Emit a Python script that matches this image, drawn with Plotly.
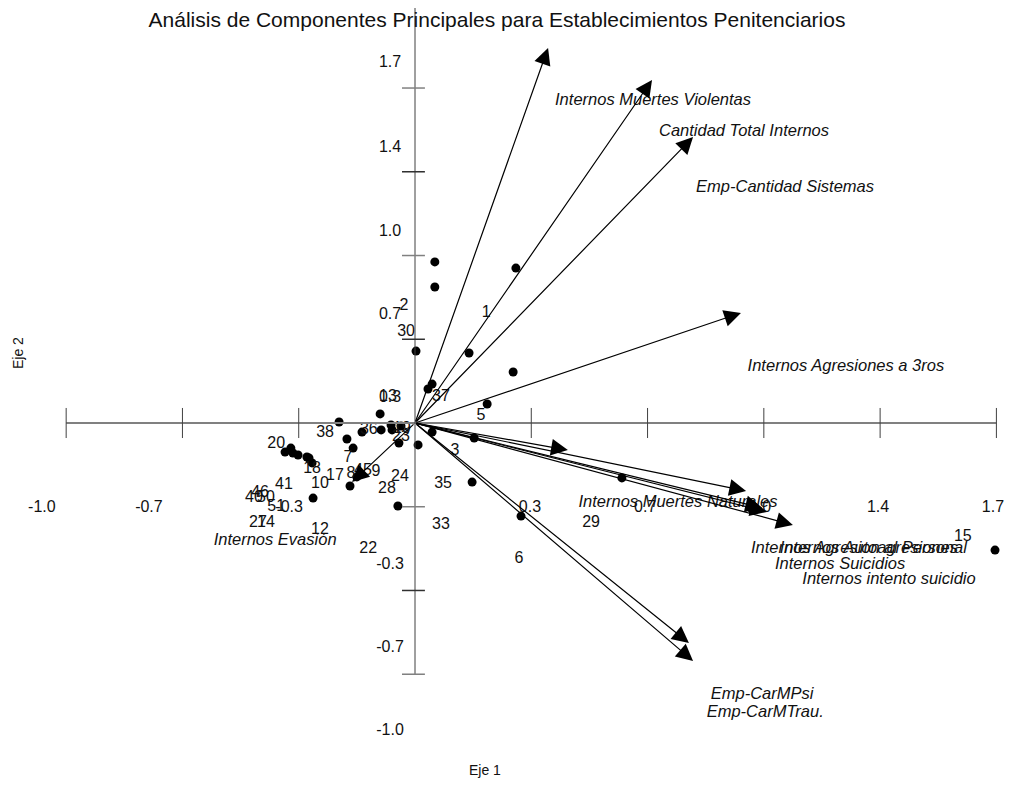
import plotly.graph_objects as go

# ---- data (biplot coordinates) ----
obs_x = [0.058, 0.058, 0.295, 0.003, 0.158, 0.287, 0.050, 0.038, 0.211, -0.102,
         0.050, 0.173, 0.009, -0.222, -0.199, -0.181, -0.155, -0.099, -0.070, -0.067,
         -0.041, -0.047, -0.380, -0.363, -0.357, -0.342, -0.316, -0.301, -0.310, -0.190,
         -0.170, -0.298, -0.050, 0.167, 0.310, 0.605, 0.985, 1.696]
obs_y = [0.654, 0.552, 0.629, 0.292, 0.284, 0.207, 0.158, 0.138, 0.077, 0.037,
         -0.037, -0.061, -0.089, 0.004, -0.065, -0.102, -0.037, -0.028, -0.008, -0.028,
         -0.012, -0.081, -0.118, -0.102, -0.122, -0.130, -0.138, -0.162, -0.142, -0.256,
         -0.219, -0.305, -0.337, -0.240, -0.378, -0.223, -0.349, -0.516]

lab_text = ["2", "30", "1", "13", "37", "5", "38", "36", "19", "23", "20", "7", "18", "3",
            "17", "8", "45", "9", "24", "28", "35", "41", "10", "46", "40", "50", "51",
            "27", "14", "12", "22", "33", "29", "6", "15"]
lab_x = [-0.032, -0.026, 0.208, -0.079, 0.076, 0.193, -0.263, -0.135, -0.038, -0.041,
         -0.406, -0.196, -0.301, 0.117, -0.234, -0.187, -0.152, -0.114, -0.044, -0.082,
         0.082, -0.383, -0.278, -0.453, -0.471, -0.436, -0.406, -0.459, -0.436, -0.278,
         -0.137, 0.076, 0.515, 0.304, 1.602]
lab_y = [0.475, 0.369, 0.447, 0.106, 0.106, 0.028, -0.041, -0.028, -0.024, -0.057,
         -0.085, -0.142, -0.187, -0.114, -0.215, -0.207, -0.195, -0.199, -0.219, -0.268,
         -0.248, -0.252, -0.248, -0.284, -0.305, -0.305, -0.341, -0.406, -0.406, -0.434,
         -0.512, -0.414, -0.406, -0.552, -0.463]

vec_x = [0.389, 0.693, 0.813, 0.953, 0.447, 0.968, 1.015, 1.029, 1.105, 0.801, 0.813, -0.184]
vec_y = [1.523, 1.393, 1.161, 0.447, -0.110, -0.276, -0.345, -0.361, -0.414, -0.893, -0.966, -0.240]

var_names = ["Internos Muertes Violentas", "Cantidad Total Internos", "Emp-Cantidad Sistemas",
             "Internos Agresiones a 3ros", "Internos Muertes Naturales",
             "Internos Agresion al Personal", "Internos Autoagresiones", "Internos Suicidios",
             "Internos intento suicidio", "Internos Evasión", "Emp-CarMPsi", "Emp-CarMTrau."]
var_x = [0.696, 0.962, 1.082, 1.260, 0.769, 1.298, 1.327, 1.243, 1.386, -0.409, 1.015, 1.024]
var_y = [1.307, 1.181, 0.954, 0.227, -0.325, -0.512, -0.512, -0.577, -0.637, -0.479, -1.104, -1.177]

tick_vals = [-1.02, -0.68, -0.34, 0.34, 0.68, 1.02, 1.36, 1.70]
tick_labels = ["-1.0", "-0.7", "-0.3", "0.3", "0.7", "1.0", "1.4", "1.7"]
xlab_pos = [-1.091, -0.778, -0.368, 0.336, 0.673, 1.009, 1.354, 1.690]
ylab_pos = [-1.250, -0.914, -0.577, 0.102, 0.438, 0.775, 1.117, 1.462]
ylab_text = ["-1.0", "-0.7", "-0.3", "0.3", "0.7", "1.0", "1.4", "1.7"]

FONT = "Liberation Sans, Arial, sans-serif"

# page offset compensation (body margin of the page)
OFF = 8
W, H = 1014 - OFF, 789 - OFF


def px(xp):
    return (xp - OFF) / W


def py(yp):
    return 1 - (yp - OFF) / H


fig = go.Figure()

# axes lines
fig.add_shape(type="line", x0=-1.02, x1=1.70, y0=0, y1=0, line=dict(color="#808080", width=2))
fig.add_shape(type="line", x0=0, x1=0, y0=-1.02, y1=1.72, line=dict(color="#404040", width=1))
for i, t in enumerate(tick_vals):
    c = "#808080" if i % 2 == 0 else "#303030"
    fig.add_shape(type="line", x0=t, x1=t, y0=-0.061, y1=0.061, line=dict(color="#404040", width=1))
    fig.add_shape(type="line", x0=-0.038, x1=0.029, y0=t, y1=t, line=dict(color=c, width=1.5))

# vectors
for vx, vy in zip(vec_x, vec_y):
    fig.add_annotation(x=vx, y=vy, ax=0, ay=0, xref="x", yref="y", axref="x", ayref="y",
                       text="", showarrow=True, arrowhead=2, arrowsize=2.8, arrowwidth=1.2,
                       arrowcolor="black", standoff=0)

# observations
fig.add_trace(go.Scatter(x=obs_x, y=obs_y, mode="markers",
                         marker=dict(color="black", size=9, line=dict(width=0)),
                         hoverinfo="skip", showlegend=False))
fig.add_trace(go.Scatter(x=lab_x, y=lab_y, mode="text", text=lab_text,
                         textfont=dict(family=FONT, size=16, color="#111"),
                         hoverinfo="skip", showlegend=False))
fig.add_trace(go.Scatter(x=var_x, y=var_y, mode="text", text=["<i>" + v + "</i>" for v in var_names],
                         textfont=dict(family=FONT, size=16.5, color="#111"),
                         hoverinfo="skip", showlegend=False))
# tick labels
fig.add_trace(go.Scatter(x=xlab_pos, y=[-0.345] * len(xlab_pos), mode="text", text=tick_labels,
                         textfont=dict(family=FONT, size=16, color="#111"),
                         hoverinfo="skip", showlegend=False))
fig.add_trace(go.Scatter(x=[-0.073] * len(ylab_pos), y=ylab_pos, mode="text", text=ylab_text,
                         textfont=dict(family=FONT, size=16, color="#111"),
                         hoverinfo="skip", showlegend=False))

fig.add_annotation(xref="paper", yref="paper", x=px(18), y=py(353), text="Eje 2",
                   xanchor="center", yanchor="middle",
                   textangle=-90, showarrow=False, font=dict(family=FONT, size=14, color="#111"))
fig.add_annotation(xref="paper", yref="paper", x=px(485), y=py(770), text="Eje 1",
                   xanchor="center", yanchor="middle",
                   showarrow=False, font=dict(family=FONT, size=14, color="#111"))

fig.update_layout(
    width=W, height=H,
    margin=dict(l=0, r=0, t=0, b=0),
    paper_bgcolor="white", plot_bgcolor="white",
    title=dict(text="Análisis de Componentes Principales para Establecimientos Penitenciarios",
               x=px(497), xanchor="center", y=py(20), yanchor="middle",
               font=dict(family=FONT, size=21, color="#111")),
    xaxis=dict(range=[(OFF - 415) / 342, (1014 - 415) / 342], visible=False, fixedrange=True),
    yaxis=dict(range=[(423 - 789) / 246.3, (423 - OFF) / 246.3], visible=False, fixedrange=True),
    showlegend=False,
)

fig.write_html("out.html")
